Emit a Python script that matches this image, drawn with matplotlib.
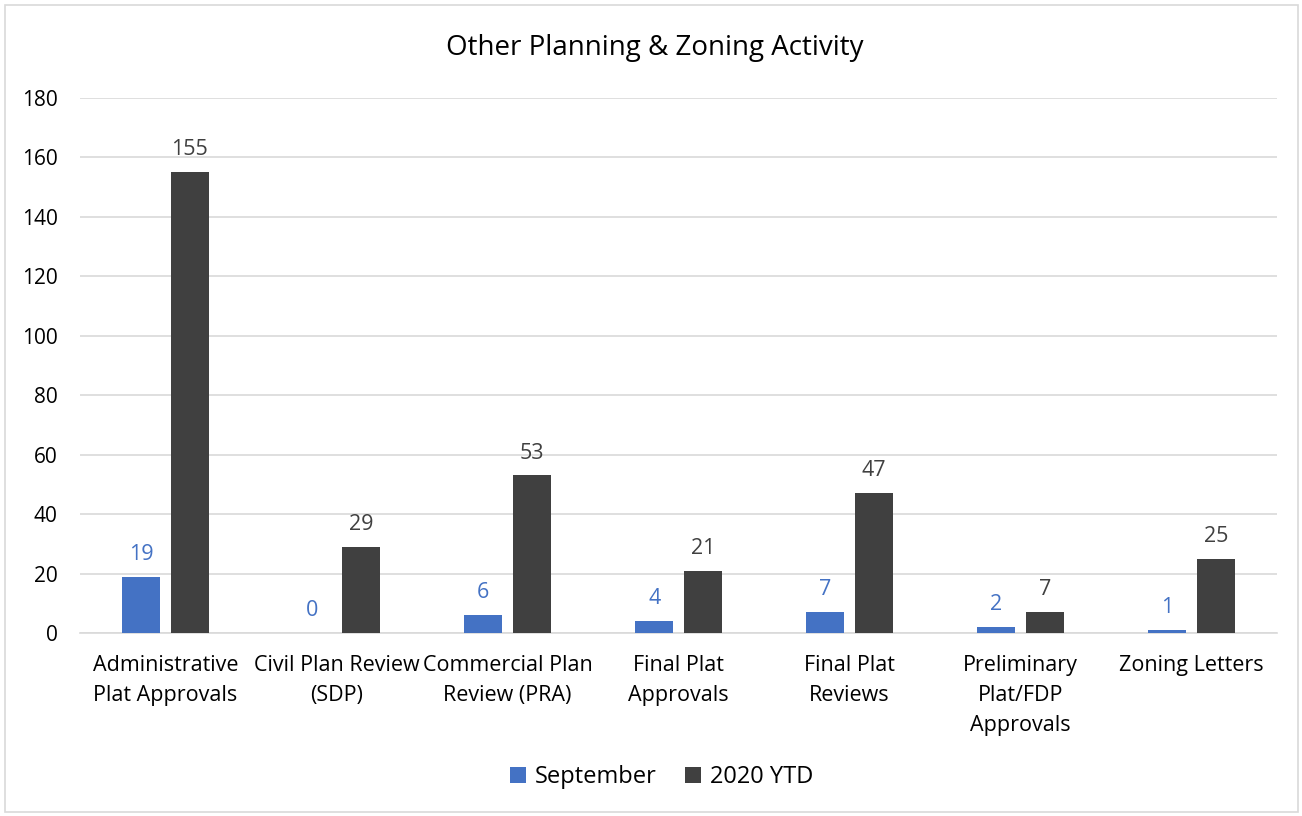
import matplotlib.pyplot as plt
import matplotlib.patches as mpatches
import numpy as np

plt.rcParams['font.family'] = ['Open Sans', 'DejaVu Sans']

categories = ["Administrative\nPlat Approvals", "Civil Plan Review\n(SDP)",
              "Commercial Plan\nReview (PRA)", "Final Plat\nApprovals",
              "Final Plat\nReviews", "Preliminary\nPlat/FDP\nApprovals",
              "Zoning Letters"]
september = [19, 0, 6, 4, 7, 2, 1]
ytd = [155, 29, 53, 21, 47, 7, 25]

blue = "#4472C4"
dark = "#404040"

fig = plt.figure(figsize=(13.02, 8.16), dpi=100)
ax = fig.add_axes([80/1302, 1-633/816, 1197/1302, 535/816])

# light frame around the whole chart
fig.patches.append(mpatches.Rectangle((5/1302, 4/816), 1293/1302, 807/816,
                                      transform=fig.transFigure, fill=False,
                                      edgecolor="#D9D9D9", linewidth=1.2))

x = np.arange(len(categories))
w = 0.222
off = 0.142
b1 = ax.bar(x - off, september, w, color=blue, label="September", zorder=3)
b2 = ax.bar(x + off, ytd, w, color=dark, label="2020 YTD", zorder=3)

for rect, v in zip(b1, september):
    ax.text(rect.get_x() + rect.get_width()/2, v + 4, str(v), ha="center",
            va="bottom", color=blue, fontsize=15.5)
for rect, v in zip(b2, ytd):
    ax.text(rect.get_x() + rect.get_width()/2, v + 4, str(v), ha="center",
            va="bottom", color=dark, fontsize=15.5)

ax.set_xlim(-0.5, len(categories) - 0.5)
ax.set_ylim(0, 180)
ax.set_yticks(range(0, 181, 20))
ax.yaxis.grid(True, color="#D9D9D9", linewidth=1.2, zorder=0)
ax.set_axisbelow(True)
for s in ["top", "right", "left"]:
    ax.spines[s].set_visible(False)
ax.spines["bottom"].set_color("#D9D9D9")
ax.spines["bottom"].set_linewidth(1.2)
ax.tick_params(axis="both", length=0, colors="black")
ax.tick_params(axis="y", pad=16, labelsize=15)
ax.tick_params(axis="x", pad=16, labelsize=15.5)
ax.set_xticks(x)
ax.set_xticklabels(categories, linespacing=1.55)

fig.text(655/1302, 1-48/816, "Other Planning & Zoning Activity", ha="center",
         va="center", fontsize=20)

fig.legend(handles=[b1, b2], loc="center", bbox_to_anchor=(662/1302, 1-777/816),
           ncol=2, frameon=False, fontsize=17, handlelength=0.65, handleheight=0.65,
           columnspacing=1.2, handletextpad=0.4)

fig.savefig("out.png", dpi=100)
